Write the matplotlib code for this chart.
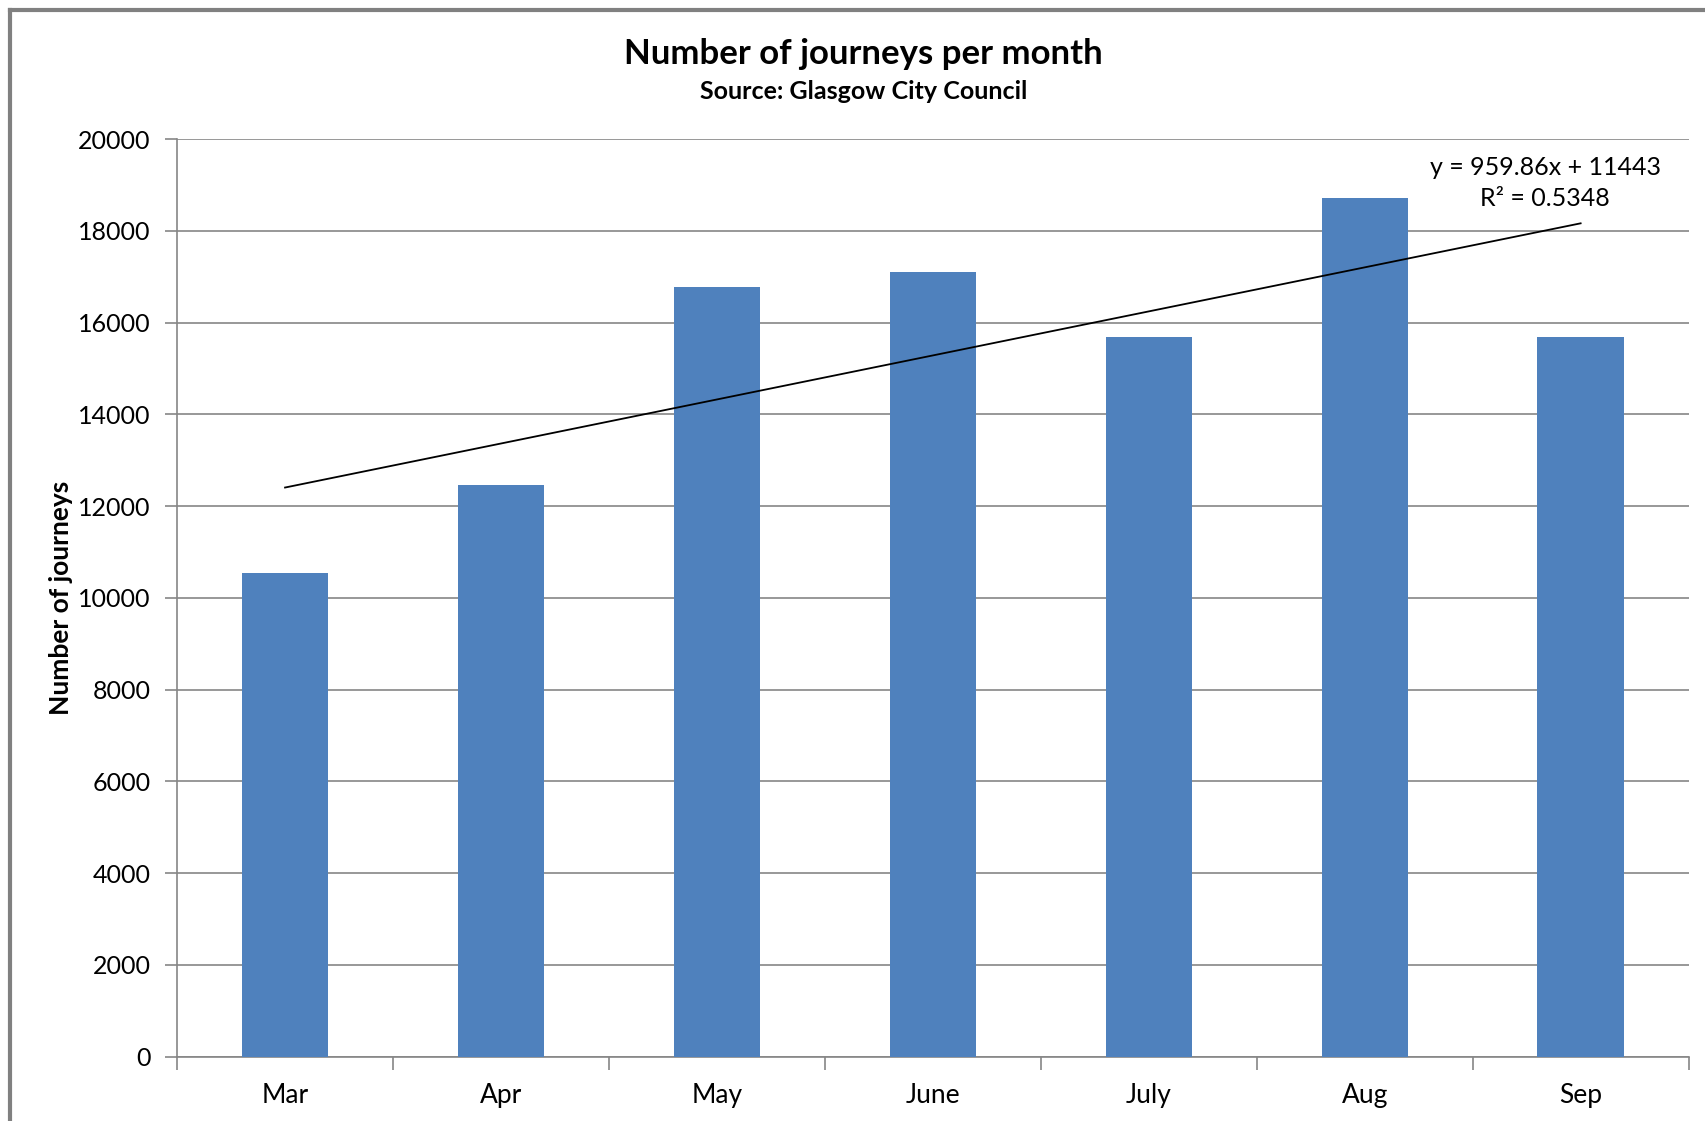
import numpy as np
import matplotlib
matplotlib.use('Agg')
import matplotlib.pyplot as plt
from matplotlib.lines import Line2D

plt.rcParams['font.family'] = ['Lato', 'DejaVu Sans']

months = ['Mar', 'Apr', 'May', 'June', 'July', 'Aug', 'Sep']
journeys = [10550, 12450, 16780, 17100, 15680, 18720, 15680]
yticks = [0, 2000, 4000, 6000, 8000, 10000, 12000, 14000, 16000, 18000, 20000]

# trendline as Excel shows it: x runs 1..n
slope = 959.86
intercept = 11443
r2 = 0.5348

fig = plt.figure(figsize=(17.06, 11.21), dpi=100)
ax = fig.add_axes([0.1038, 0.0575, 0.886, 0.8185])

x = np.arange(len(months))
ax.bar(x, journeys, width=0.4, color='#4F81BD', zorder=3)

xt = np.arange(1, len(months) + 1)
ax.plot(x, slope * xt + intercept, color='black', lw=1.3, zorder=4)

ax.set_xlim(-0.5, len(months) - 0.5)
ax.set_ylim(0, 20000)
ax.set_yticks(yticks)
ax.set_yticklabels([str(v) for v in yticks], fontsize=18)
ax.set_xticks(x)
ax.set_xticklabels(months, fontsize=19)
ax.set_xticks(np.arange(-0.5, len(months)), minor=True)
ax.tick_params(axis='x', which='major', length=0, pad=19)
ax.tick_params(axis='x', which='minor', length=9, color='#868686', width=1.2)
ax.tick_params(axis='y', length=9, color='#868686', width=1.2, pad=10)

ax.grid(axis='y', color='#868686', lw=1.2, zorder=0)
for s in ['top', 'right']:
    ax.spines[s].set_visible(False)
for s in ['left', 'bottom']:
    ax.spines[s].set_color('#868686')
    ax.spines[s].set_linewidth(1.2)

ax.set_ylabel('Number of journeys', fontsize=19, fontweight='bold', labelpad=4)

fig.text(0.506, 0.952, 'Number of journeys per month', ha='center', va='center',
         fontsize=25, fontweight='bold')
fig.text(0.506, 0.918, 'Source: Glasgow City Council', ha='center', va='center',
         fontsize=18, fontweight='bold')

ax.text(5.835, 19040, 'y = 959.86x + 11443\nR\u00b2 = 0.5348', ha='center', va='center',
        fontsize=18, linespacing=1.45)

# outer chart frame (left and top edges visible)
fig.add_artist(Line2D([10 / 1706, 10 / 1706], [0, 1 - 10 / 1121], transform=fig.transFigure,
                      color='#808080', lw=3))
fig.add_artist(Line2D([10 / 1706, 1], [1 - 10 / 1121, 1 - 10 / 1121], transform=fig.transFigure,
                      color='#808080', lw=3))

fig.savefig('out.png', dpi=100)
